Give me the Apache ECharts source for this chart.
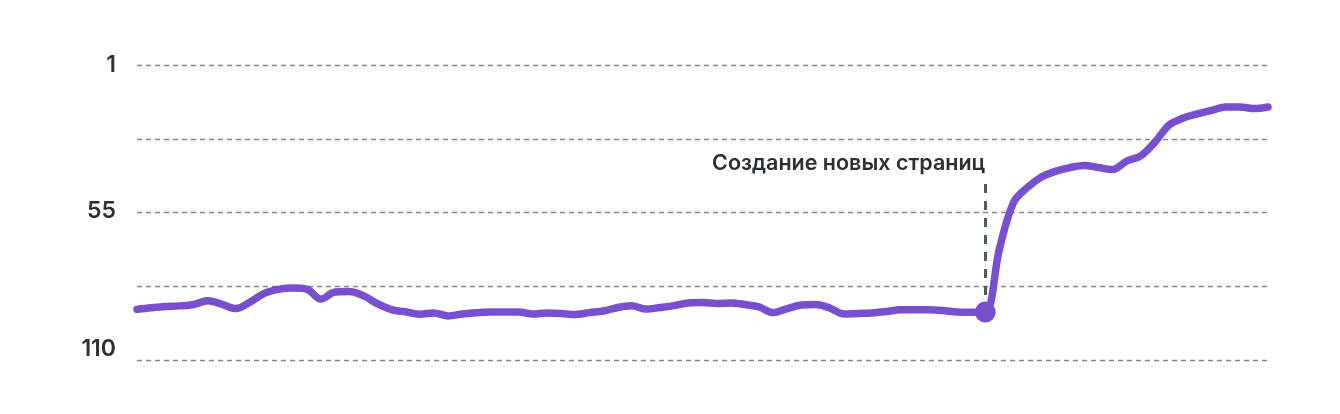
<!DOCTYPE html>
<html><head><meta charset="utf-8">
<script src="https://cdn.jsdelivr.net/npm/echarts@6/dist/echarts.min.js"></script>
<style>html,body{margin:0;padding:0;background:#fff}#c{width:1340px;height:414px}</style>
</head><body><div id="c"></div>
<script>
var categories = [];
for (var k = 1; k <= 81; k++) categories.push(String(k));
var positions = [
  91.3, 90.7, 90.2, 90.0, 89.5, 88.1, 89.4, 91.0, 88.6, 85.4,
  83.9, 83.4, 83.8, 87.5, 84.9, 84.7, 86.2, 89.2, 91.4, 92.2,
  93.1, 92.6, 93.7, 93.0, 92.5, 92.3, 92.3, 92.3, 93.0, 92.6,
  92.8, 93.2, 92.5, 91.9, 90.6, 90.0, 91.2, 90.6, 89.9, 88.9,
  88.8, 89.1, 88.9, 89.5, 90.4, 92.5, 91.0, 89.7, 89.5, 90.8,
  93.0, 92.8, 92.6, 92.1, 91.4, 91.4, 91.4, 91.7, 92.3, 92.4,
  92.3, 69.0, 51.8, 46.2, 42.3, 40.2, 38.9, 38.1, 38.9, 39.6,
  36.5, 34.6, 29.5, 23.2, 20.6, 19.1, 17.8, 16.5, 16.5, 17.1,
  16.5
];
var gridValues = [1, 28.25, 55.5, 82.75, 110];
var labelValues = [1, 55, 110];
var eventIndex = 60;
var eventLabel = 'Создание новых страниц';
var eventTop = 44.6;

var FONT = 'Inter, "Noto Sans", sans-serif';
var chart = echarts.init(document.getElementById('c'), null, {renderer: 'canvas'});
chart.setOption({
  animation: false,
  grid: {left: 137, right: 72, top: 65, bottom: 54},
  xAxis: {
    type: 'category', data: categories, boundaryGap: false,
    axisLine: {show: false}, axisTick: {show: false}, axisLabel: {show: false}, splitLine: {show: false}
  },
  yAxis: {
    type: 'value', inverse: true, min: 1, max: 110,
    axisLine: {show: false},
    axisTick: {show: false, customValues: gridValues},
    splitLine: {show: true, lineStyle: {color: '#7f868d', width: 1.4, type: [5, 4]}},
    axisLabel: {
      customValues: labelValues, margin: 21,
      color: '#2b3035', fontSize: 23, fontFamily: FONT, fontWeight: 600,
      formatter: function (v) { return v === 110 ? '{low|110}' : '{n|' + v + '}'; },
      rich: {
        n: {fontSize: 23, color: '#2b3035', fontFamily: FONT, fontWeight: 600},
        low: {fontSize: 23, color: '#2b3035', fontFamily: FONT, fontWeight: 600, padding: [0, 0, 22, 0]}
      }
    }
  },
  series: [{
    type: 'line', data: positions, smooth: 0.35, showSymbol: false, symbol: 'none',
    lineStyle: {color: '#7a4fcf', width: 7.5, cap: 'round', join: 'round'},
    itemStyle: {color: '#7a4fcf'},
    z: 3,
    markLine: {
      silent: true, symbol: ['none', 'none'], z: 2,
      lineStyle: {color: '#4b5a64', width: 3, type: [9, 8]},
      label: {
        show: true, position: 'end', formatter: eventLabel,
        color: '#2b3035', fontSize: 21.5, fontFamily: FONT, fontWeight: 600,
        align: 'right', verticalAlign: 'bottom', distance: 8
      },
      data: [[{coord: [eventIndex, positions[eventIndex]]}, {coord: [eventIndex, eventTop]}]]
    },
    markPoint: {
      silent: true, symbol: 'circle', symbolSize: 21,
      itemStyle: {color: '#7a4fcf'}, label: {show: false},
      data: [{coord: [eventIndex, positions[eventIndex]]}]
    }
  }]
});
</script>
</body></html>
